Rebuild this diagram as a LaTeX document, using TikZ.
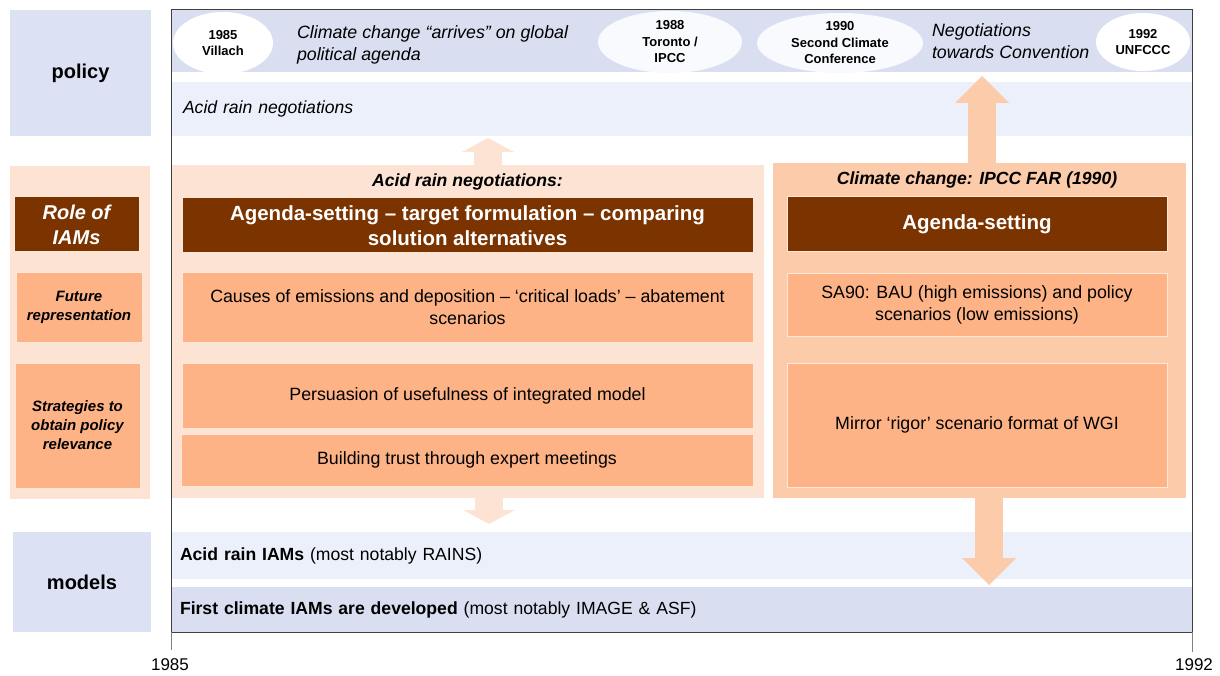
\documentclass[tikz,border=0pt]{standalone}
\usepackage{fontspec}
\setmainfont{Liberation Sans}
\usetikzlibrary{shapes,arrows,arrows.meta,positioning}
\usepackage{xcolor}
\definecolor{lavlight}{HTML}{ECF0FB}
\definecolor{lavdark}{HTML}{D9DFF0}
\definecolor{rowcol}{HTML}{DCE2F4}
\definecolor{peachlight}{HTML}{FDE3D3}
\definecolor{peachmid}{HTML}{FCCBAA}
\definecolor{peachbox}{HTML}{FDB386}
\definecolor{peachedge}{HTML}{FFE6D6}
\definecolor{iambrown}{HTML}{7B3300}
\definecolor{framegray}{HTML}{404040}

\begin{document}
\begin{tikzpicture}[x=1pt, y=-1pt]
        \tikzstyle{every node}=[inner sep=0pt, outer sep=0pt]
        \tikzstyle{rowlabel}=[rectangle, anchor=north west, fill=rowcol, font=\fontsize{20}{24}\selectfont\bfseries]
        \tikzstyle{band}=[rectangle, anchor=north west, inner xsep=9pt, text width=1003pt, align=left, font=\fontsize{17.6}{21}\selectfont]
        \tikzstyle{topic}=[font=\fontsize{17.8}{22}\selectfont\itshape, align=left]
        \tikzstyle{event}=[ellipse, fill=white, align=center, font=\fontsize{13}{16}\selectfont\bfseries]
        \tikzstyle{panel}=[rectangle, anchor=north west]
        \tikzstyle{rolebox}=[rectangle, anchor=north west, fill=iambrown, draw=peachedge, line width=1pt, text=white, align=center, font=\fontsize{20.5}{25}\selectfont\bfseries]
        \tikzstyle{box}=[rectangle, anchor=north west, fill=peachbox, draw=peachedge, line width=1pt, align=center, font=\fontsize{17.8}{22}\selectfont]
        \tikzstyle{sidebox}=[box, font=\fontsize{15}{19}\selectfont\bfseries\itshape]
        \tikzstyle{paneltitle}=[font=\fontsize{17.6}{21}\selectfont\bfseries\itshape]
        \tikzstyle{fatarrow}=[line width=28pt, -{Triangle[width=54pt, length=27pt, line width=0pt]}]
        \tikzstyle{slimarrow}=[line width=28pt, -{Triangle[width=52pt, length=14pt, line width=0pt]}]

        \useasboundingbox (0,0) rectangle (1220,676);

        % row labels
        \node[rowlabel, minimum width=141pt, minimum height=126pt] (policy) at (10,10) {policy};
        \node[rowlabel, minimum width=138pt, minimum height=100pt] (models) at (13,532) {models};

        % policy bands
        \node[band, fill=lavdark, minimum height=62pt] (global) at (171,10) {};
        \node[band, fill=lavlight, minimum height=54pt, inner xsep=12pt, text width=997pt, font=\fontsize{17.6}{22}\selectfont\itshape] (acidneg) at (171,82) {Acid rain negotiations};

        % events on the climate agenda
        \node[event, minimum width=100pt, minimum height=62pt] (villach) at (223,43) {1985\\Villach};
        \node[event, fill=white!70!lavlight, minimum width=144pt, minimum height=62pt, font=\fontsize{13}{16.5}\selectfont\bfseries] (toronto) at (670,42) {1988\\Toronto /\\IPCC};
        \node[event, fill=white!70!lavlight, minimum width=166pt, minimum height=60pt, font=\fontsize{13}{16.5}\selectfont\bfseries] (second) at (840,43) {1990\\Second Climate\\Conference};
        \node[event, minimum width=94pt, minimum height=58pt] (unfccc) at (1143,42) {1992\\UNFCCC};
        \node[topic, anchor=west] (arrives) at (297,45) {Climate change “arrives” on global\\political agenda};
        \node[topic, anchor=west] (towards) at (932,41) {Negotiations\\towards Convention};

        % model bands
        \node[band, fill=lavlight, minimum height=47pt] (acidiam) at (171,532) {\textbf{Acid rain IAMs} (most notably RAINS)};
        \node[band, fill=lavdark, minimum height=45pt] (climiam) at (171,587) {\textbf{First climate IAMs are developed} (most notably IMAGE \& ASF)};

        % role of IAMs, left column
        \node[panel, fill=peachlight, minimum width=140pt, minimum height=333pt] (roles) at (10,166) {};
        \node[rolebox, minimum width=125pt, minimum height=55pt, font=\fontsize{20}{25}\selectfont\bfseries\itshape] (role) at (14,197) {Role of\\IAMs};
        \node[sidebox, minimum width=126pt, minimum height=69pt] (future) at (16,273) {Future\\representation};
        \node[sidebox, minimum width=125pt, minimum height=125pt] (strat) at (15,363) {Strategies to\\obtain policy\\relevance};

        % acid rain
        \node[panel, fill=peachlight, minimum width=592pt, minimum height=333pt] (acid) at (172,165) {};
        \node[rolebox, minimum width=571pt, minimum height=55pt] (acidrole) at (182,198) {Agenda-setting – target formulation – comparing\\solution alternatives};
        \node[paneltitle, above=8pt of acidrole] (acidtitle) {Acid rain negotiations:};
        \node[box, minimum width=571pt, minimum height=69pt] (causes) at (182,273) {Causes of emissions and deposition – ‘critical loads’ – abatement\\scenarios};
        \node[box, minimum width=571pt, minimum height=65pt] (persuade) at (182,363) {Persuasion of usefulness of integrated model};
        \node[box, minimum width=572pt, minimum height=52pt] (trust) at (181,434) {Building trust through expert meetings};

        % climate change
        \node[panel, fill=peachmid, minimum width=413pt, minimum height=335pt] (clim) at (773,163) {};
        \node[rolebox, minimum width=380pt, minimum height=55pt] (climrole) at (787,197) {Agenda-setting};
        \node[paneltitle, above=9pt of climrole] (climtitle) {Climate change: IPCC FAR (1990)};
        \node[box, minimum width=380pt, minimum height=62pt] (sa90) at (787,274) {SA90: BAU (high emissions) and policy\\scenarios (low emissions)};
        \node[box, minimum width=380pt, minimum height=124pt] (mirror) at (787,363) {Mirror ‘rigor’ scenario format of WGI};

        % links to policy and models
        \coordinate (acidup) at (488,138);
        \coordinate (aciddown) at (489,524);
        \coordinate (climup) at (982,76);
        \coordinate (climdown) at (989,585);
        \draw[slimarrow, peachlight] (acid.north -| acidup) -- (acidup);
        \draw[slimarrow, peachlight] (acid.south -| aciddown) -- (aciddown);
        \draw[fatarrow, peachmid] (clim.north -| climup) -- (climup);
        \draw[fatarrow, peachmid] (clim.south -| climdown) -- (climdown);

        % time frame
        \node[draw=framegray, line width=1pt, minimum width=1021pt, minimum height=622pt, anchor=north west] (frame) at (171,10) {};
        \draw[gray, line width=0.8pt] (frame.south west) -- ++(0,18);
        \draw[gray, line width=0.8pt] (frame.south east) -- ++(0,20);
        \node[font=\fontsize{17}{20}\selectfont] (y85) at (170,665) {1985};
        \node[font=\fontsize{17}{20}\selectfont] (y92) at (1194,665) {1992};
\end{tikzpicture}
\end{document}
